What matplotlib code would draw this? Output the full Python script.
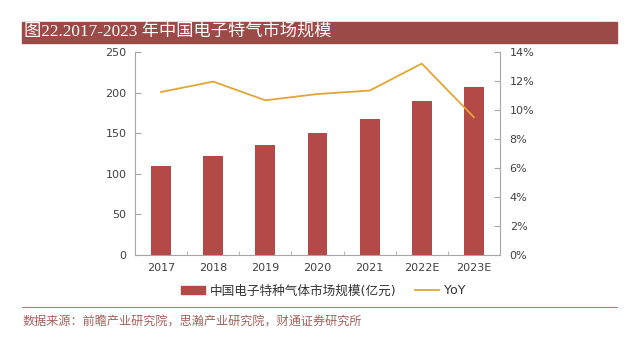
import matplotlib.pyplot as plt
from matplotlib.patches import Rectangle
from matplotlib.lines import Line2D
from matplotlib.ticker import FuncFormatter

plt.rcParams['font.family'] = ['DejaVu Sans', 'Noto Sans CJK SC']

years = ['2017', '2018', '2019', '2020', '2021', '2022E', '2023E']
market = [109, 122, 135.3, 149.7, 167.4, 189.6, 206.8]
yoy = [11.24, 11.96, 10.67, 11.1, 11.34, 13.2, 9.5]

BAR = '#B34A48'
LINE = '#E3A533'
TXT = '#404040'
SPINE = '#A6A6A6'

fig = plt.figure(figsize=(6.42, 3.43), dpi=100)
W, H = 642, 343

# title bar
fig.patches.append(Rectangle((22 / W, 1 - 42.7 / H), (617 - 22) / W, 21 / H,
                             transform=fig.transFigure, color='#9B4A47', zorder=0))
fig.text(24 / W, 1 - 32.5 / H, '图22.2017-2023 年中国电子特气市场规模', color='white',
         fontsize=12.4, va='center', ha='left',
         family=['Liberation Serif', 'Noto Sans CJK SC'])

ax = fig.add_axes([135 / W, 1 - 255 / H, (500 - 135) / W, (255 - 52) / H])
x = range(len(years))
ax.bar(x, market, width=0.38, color=BAR, zorder=2)
ax.set_ylim(0, 250)
ax.set_yticks(range(0, 251, 50))
ax.set_xlim(-0.5, len(years) - 0.5)
ax.set_xticks(list(x))
ax.set_xticklabels(years)
ax.set_xticks([i + 0.5 for i in range(len(years) - 1)], minor=True)
ax.tick_params(axis='x', which='major', length=0, pad=6, labelsize=8, labelcolor=TXT)
ax.tick_params(axis='x', which='minor', length=3, direction='in', color=SPINE)
ax.tick_params(axis='y', length=4, direction='in', color=SPINE, labelsize=8,
               labelcolor=TXT, pad=6)
for s in ['top', 'right']:
    ax.spines[s].set_visible(False)
for s in ['left', 'bottom']:
    ax.spines[s].set_color(SPINE)

ax2 = ax.twinx()
ax2.plot(list(x), yoy, color=LINE, lw=1.3, zorder=3)
ax2.set_ylim(0, 14)
ax2.set_yticks(range(0, 15, 2))
ax2.yaxis.set_major_formatter(FuncFormatter(lambda v, p: f'{v:.0f}%'))
ax2.tick_params(axis='y', length=4, direction='in', color=SPINE, labelsize=8,
                labelcolor=TXT, pad=7)
for s in ['top', 'left', 'bottom']:
    ax2.spines[s].set_visible(False)
ax2.spines['right'].set_color(SPINE)

handles = [Rectangle((0, 0), 1, 1, color=BAR), Line2D([], [], color=LINE, lw=1.3)]
fig.legend(handles, ['中国电子特种气体市场规模(亿元)', 'YoY'],
           loc='center', bbox_to_anchor=(323 / W, 1 - 291 / H), ncol=2,
           frameon=False, handlelength=1.9, handleheight=0.6,
           columnspacing=1.5, handletextpad=0.35, labelcolor='#333333',
           prop={'family': ['DejaVu Sans', 'Noto Sans CJK SC'], 'size': 9.1})

fig.add_artist(Line2D([22 / W, 617 / W], [1 - 307 / H, 1 - 307 / H],
                      color='#B87C7A', lw=0.8))
fig.text(23 / W, 1 - 322 / H, '数据来源：前瞻产业研究院，思瀚产业研究院，财通证券研究所',
         color='#A5605C', fontsize=8.7, va='center', ha='left',
         family=['Noto Sans CJK SC'])

fig.savefig('out.png', dpi=100)
